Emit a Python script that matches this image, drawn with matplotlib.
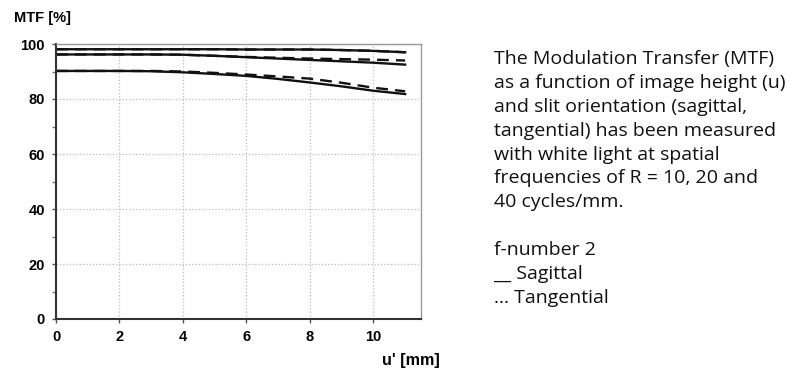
import matplotlib.pyplot as plt

# image height u' [mm]
u = [0, 1, 2, 3, 4, 5, 6, 7, 8, 9, 10, 11]

# MTF values [%]
sag_10 = [98.1, 98.1, 98.1, 98.1, 98.1, 98.1, 98.0, 98.0, 98.0, 97.8, 97.5, 97.0]
tan_10 = [98.1, 98.1, 98.1, 98.1, 98.1, 98.1, 98.0, 98.0, 98.0, 97.8, 97.5, 97.0]
sag_20 = [96.2, 96.2, 96.2, 96.2, 96.1, 95.7, 95.2, 94.7, 94.2, 93.7, 93.2, 92.5]
tan_20 = [96.2, 96.2, 96.2, 96.2, 96.1, 95.7, 95.3, 95.0, 94.7, 94.5, 94.3, 94.0]
sag_40 = [90.2, 90.2, 90.2, 90.1, 89.7, 89.1, 88.4, 87.3, 86.0, 84.6, 83.0, 81.8]
tan_40 = [90.2, 90.2, 90.2, 90.2, 90.0, 89.5, 88.9, 88.2, 87.4, 85.9, 84.1, 82.8]

description = ("The Modulation Transfer (MTF)\n"
               "as a function of image height (u)\n"
               "and slit orientation (sagittal,\n"
               "tangential) has been measured\n"
               "with white light at spatial\n"
               "frequencies of R = 10, 20 and\n"
               "40 cycles/mm.\n"
               "\n"
               "f-number 2\n"
               "__ Sagittal\n"
               "\u2026 Tangential")

fig = plt.figure(figsize=(8, 3.83), dpi=100)
ax = fig.add_axes([56 / 800, 1 - 319 / 383, (421 - 56) / 800, (319 - 44) / 383])

for s, t in [(sag_10, tan_10), (sag_20, tan_20), (sag_40, tan_40)]:
    ax.plot(u, t, color='#111111', lw=1.7, ls=(0, (5, 3)))
    ax.plot(u, s, color='#111111', lw=1.7)

ax.set_xlim(0, 11.5)
ax.set_ylim(0, 100)
ax.set_xticks([0, 2, 4, 6, 8, 10])
ax.set_yticks([0, 20, 40, 60, 80, 100])
ax.set_yticks([10, 30, 50, 70, 90], minor=True)
ax.grid(True, which='major', color='#bbbbbb', ls=':', lw=0.9)

for side in ['top', 'right']:
    ax.spines[side].set_color('#999999')
    ax.spines[side].set_linewidth(1.0)
for side in ['left', 'bottom']:
    ax.spines[side].set_color('#333333')
    ax.spines[side].set_linewidth(1.5)

tick_font = dict(family='Liberation Sans', weight='bold', size=10.5)
ax.tick_params(axis='both', which='major', length=3, width=1, color='#555555', pad=5)
ax.tick_params(axis='both', which='minor', length=3, width=1, color='#777777')
for lab in ax.get_xticklabels() + ax.get_yticklabels():
    lab.set_fontproperties(tick_font)

fig.text(14 / 800, 1 - 18 / 383, "MTF [%]", ha='left', va='center',
         family='Liberation Sans', weight='bold', size=10.5)
fig.text(440 / 800, 1 - 360 / 383, "u' [mm]", ha='right', va='center',
         family='Liberation Sans', weight='bold', size=11.6)

fig.text(494 / 800, 1 - 50 / 383, description, ha='left', va='top',
         family='Open Sans', size=14, color='#111111', linespacing=1.42)

fig.savefig('out.png', dpi=100)
